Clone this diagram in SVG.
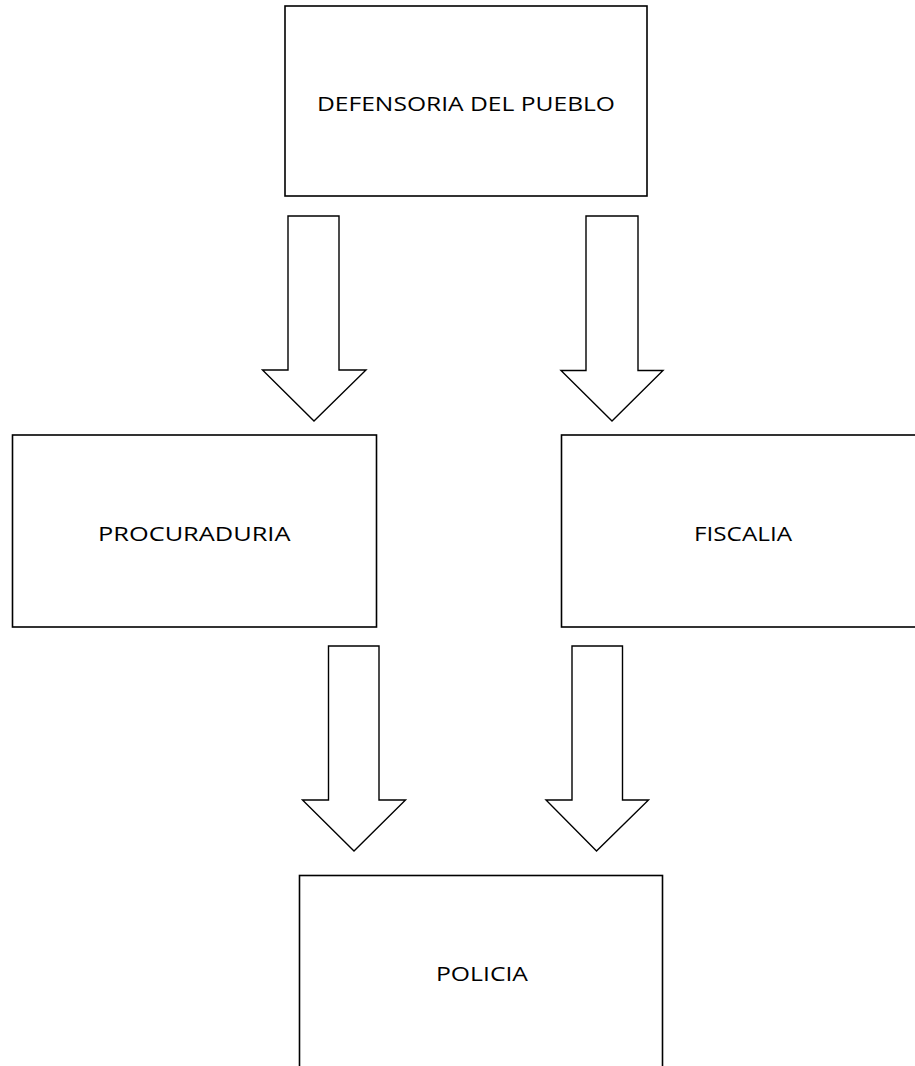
<svg xmlns="http://www.w3.org/2000/svg" width="915" height="1066" viewBox="0 0 915 1066">
<style>
.box{fill:#fff;stroke:#000;stroke-width:1.6}
.arr{fill:#fff;stroke:#000;stroke-width:1.4;stroke-linejoin:miter}
.lbl{font-family:"Open Sans","Noto Sans",sans-serif;font-size:20.5px;fill:#000}
</style>
<rect width="915" height="1066" fill="#fff"/>
<g id="connectors">
<polygon class="arr" points="288,216 339,216 339,370 366,370 314,421 262.5,370 288,370"/>
<polygon class="arr" points="586,216 638,216 638,370.5 663,370.5 612,421 561,370.5 586,370.5"/>
<polygon class="arr" points="328.5,646 379,646 379,800 405.5,800 354,851 302.5,800 328.5,800"/>
<polygon class="arr" points="572,646 622.5,646 622.5,800 648.5,800 596.5,851 546,800 572,800"/>
</g>
<g id="node-defensoria">
<rect class="box" x="285" y="6" width="362" height="190"/>
<text class="lbl" x="317" y="111" textLength="298" lengthAdjust="spacingAndGlyphs">DEFENSORIA DEL PUEBLO</text>
</g>
<g id="node-procuraduria">
<rect class="box" x="12.5" y="435" width="364" height="192"/>
<text class="lbl" x="98" y="541" textLength="192.5" lengthAdjust="spacingAndGlyphs">PROCURADURIA</text>
</g>
<g id="node-fiscalia">
<rect class="box" x="561.5" y="435" width="370" height="192"/>
<text class="lbl" x="694" y="541" textLength="98" lengthAdjust="spacingAndGlyphs">FISCALIA</text>
</g>
<g id="node-policia">
<rect class="box" x="299.5" y="875.5" width="363" height="210"/>
<text class="lbl" x="436" y="981" textLength="92" lengthAdjust="spacingAndGlyphs">POLICIA</text>
</g>
</svg>
